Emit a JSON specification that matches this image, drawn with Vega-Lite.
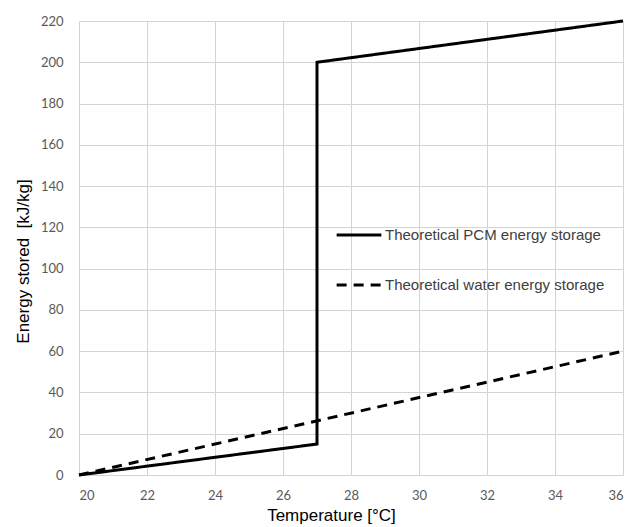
{
  "$schema": "https://vega.github.io/schema/vega-lite/v6.json",
  "width": 544,
  "height": 454,
  "autosize": {"type": "none"},
  "padding": {"left": 79, "top": 21, "right": 9, "bottom": 52},
  "background": "white",
  "config": {
    "view": {"stroke": null},
    "axis": {
      "gridColor": "#d9d2ce",
      "gridWidth": 1,
      "domainColor": "#d9d2ce",
      "tickColor": "#d9d2ce",
      "ticks": false,
      "labelFont": "Lato",
      "labelFontSize": 13,
      "labelColor": "#595959",
      "titleFont": "Liberation Sans",
      "titleFontSize": 17,
      "titleFontWeight": "normal",
      "titleColor": "#000000"
    }
  },
  "data": {
    "values": [
      {"series": "Theoretical PCM energy storage", "t": 20, "e": 0},
      {"series": "Theoretical PCM energy storage", "t": 27, "e": 15},
      {"series": "Theoretical PCM energy storage", "t": 27, "e": 200},
      {"series": "Theoretical PCM energy storage", "t": 36, "e": 220},
      {"series": "Theoretical water energy storage", "t": 20, "e": 0},
      {"series": "Theoretical water energy storage", "t": 36, "e": 60}
    ]
  },
  "mark": {"type": "line", "strokeWidth": 3, "strokeJoin": "miter"},
  "encoding": {
    "x": {
      "field": "t", "type": "quantitative",
      "scale": {"domain": [20, 36], "nice": false, "zero": false},
      "axis": {"values": [20, 22, 24, 26, 28, 30, 32, 34, 36], "title": "Temperature [°C]", "labelPadding": 14, "titlePadding": 5, "titleX": 252}
    },
    "y": {
      "field": "e", "type": "quantitative",
      "scale": {"domain": [0, 220], "nice": false},
      "axis": {"values": [0, 20, 40, 60, 80, 100, 120, 140, 160, 180, 200, 220], "title": "Energy stored\u00a0\u00a0[kJ/kg]", "labelPadding": 16, "titlePadding": 8, "titleY": 240}
    },
    "order": {"field": "idx"},
    "color": {
      "field": "series", "type": "nominal",
      "scale": {"domain": ["Theoretical PCM energy storage", "Theoretical water energy storage"], "range": ["#000000", "#000000"]},
      "legend": {
        "title": null,
        "orient": "none",
        "legendX": 256,
        "legendY": 190,
        "symbolType": "stroke",
        "symbolSize": 2000,
        "symbolStrokeWidth": 3,
        "labelFont": "Liberation Sans",
        "labelFontSize": 15,
        "labelColor": "#404040",
        "labelOffset": 2,
        "rowPadding": 18,
        "labelLimit": 400
      }
    },
    "strokeDash": {
      "field": "series", "type": "nominal",
      "scale": {"domain": ["Theoretical PCM energy storage", "Theoretical water energy storage"], "range": [[1, 0], [10, 7]]},
      "legend": {
        "title": null,
        "orient": "none",
        "legendX": 256,
        "legendY": 190,
        "symbolType": "stroke",
        "symbolSize": 2000,
        "symbolStrokeWidth": 3,
        "labelFont": "Liberation Sans",
        "labelFontSize": 15,
        "labelColor": "#404040",
        "labelOffset": 2,
        "rowPadding": 18,
        "labelLimit": 400
      }
    }
  }
}
